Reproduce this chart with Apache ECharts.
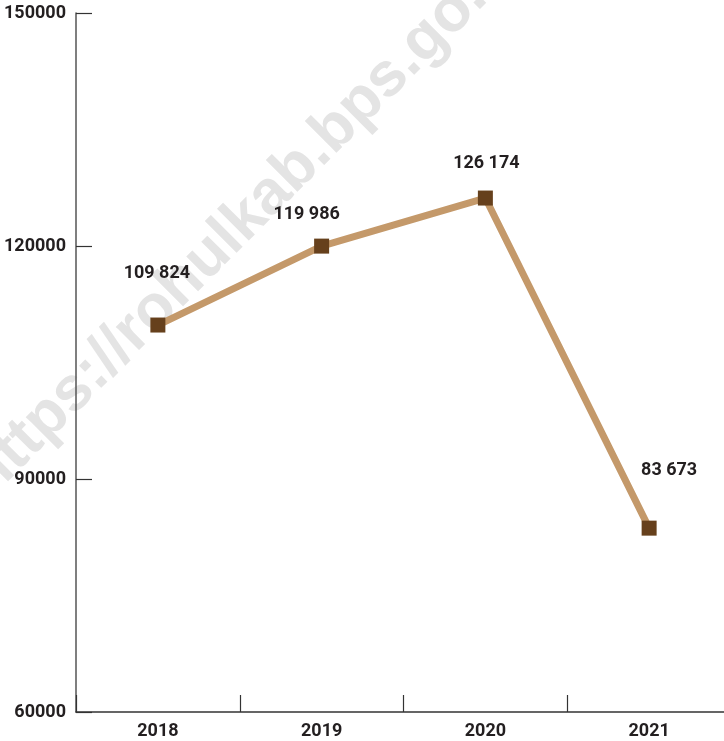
<!DOCTYPE html>
<html>
<head>
<meta charset="utf-8">
<script src="https://cdn.jsdelivr.net/npm/echarts@6/dist/echarts.min.js"></script>
<style>
  html, body { margin: 0; padding: 0; background: #fff; }
  #chart { width: 724px; height: 741px; }
</style>
</head>
<body>
<div id="chart"></div>
<script>
const years = ['2018', '2019', '2020', '2021']
const values = [109824, 119986, 126174, 83673]
const yTicks = [60000, 90000, 120000, 150000]

// hand-placed label nudges, as in the original
const labelShift = [[-1, -52], [-15, -32], [1, -35], [20, -58]]

const fmt = v => String(v).replace(/\B(?=(\d{3})+(?!\d))/g, ' ')
const textFont = 'Roboto, "DejaVu Sans Condensed", sans-serif'

const chart = echarts.init(document.getElementById('chart'), null, { renderer: 'canvas' })
chart.setOption({
  backgroundColor: '#fff',
  animation: false,
  grid: {
    left: 76,
    top: 13,
    right: -7,
    bottom: 29,
    containLabel: false,
    outerBoundsMode: 'none'
  },
  graphic: [
    {
      type: 'text',
      x: 247,
      y: 218,
      rotation: Math.PI / 4,
      z: 0,
      silent: true,
      style: {
        text: 'https://rohulkab.bps.go.id',
        fill: '#e4e4e4',
        font: 'bold 62px "Liberation Sans", sans-serif',
        align: 'center',
        verticalAlign: 'middle'
      }
    }
  ],
  xAxis: {
    type: 'category',
    data: years,
    boundaryGap: true,
    axisLine: { lineStyle: { color: '#333', width: 1.5 } },
    axisTick: { show: true, inside: true, length: 17, lineStyle: { color: '#333', width: 1.2 } },
    axisLabel: {
      margin: 10,
      color: '#231f20',
      fontFamily: textFont,
      fontWeight: 'bold',
      fontSize: 18
    },
    splitLine: { show: false }
  },
  yAxis: {
    type: 'value',
    min: yTicks[0],
    max: yTicks[yTicks.length - 1],
    interval: yTicks[1] - yTicks[0],
    axisLine: { show: true, lineStyle: { color: '#555', width: 1.5 } },
    axisTick: { show: true, inside: true, length: 16, lineStyle: { color: '#333', width: 1.2 } },
    axisLabel: {
      margin: 10,
      color: '#231f20',
      fontFamily: textFont,
      fontWeight: 'bold',
      fontSize: 18,
      formatter: v => String(v)
    },
    splitLine: { show: false }
  },
  series: [
    {
      type: 'line',
      z: 3,
      data: values.map((v, i) => ({
        value: v,
        label: { offset: labelShift[i] }
      })),
      symbol: 'rect',
      symbolSize: 15,
      lineStyle: { color: '#c4996a', width: 7 },
      itemStyle: { color: '#66401c' },
      label: {
        show: true,
        position: 'inside',
        formatter: p => fmt(p.value),
        color: '#231f20',
        fontFamily: textFont,
        fontWeight: 'bold',
        fontSize: 18
      }
    }
  ]
})
</script>
</body>
</html>
